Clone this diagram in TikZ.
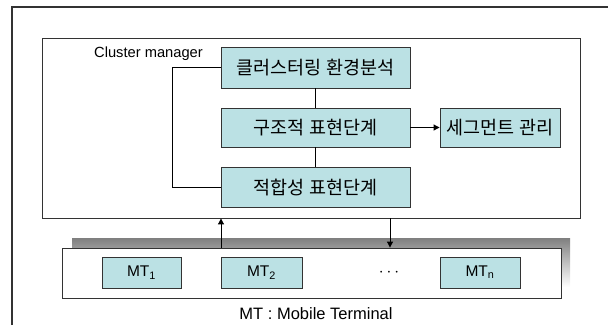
\documentclass[tikz,border=0pt]{standalone}
\usepackage{fontspec}
\setmainfont{Liberation Sans}
\newfontfamily\kr{Noto Sans CJK KR}
\usetikzlibrary{arrows.meta}
\definecolor{boxfill}{HTML}{BBE1E4}
\definecolor{edge}{HTML}{333333}
\definecolor{shade}{HTML}{C0C0C0}
\tikzset{
  stage/.style={draw=edge, line width=0.9pt, fill=boxfill, inner sep=0pt,
    font=\kr\fontsize{18.5}{20}\selectfont},
  mtbox/.style={draw=edge, line width=0.9pt, fill=boxfill, inner sep=0pt,
    minimum height=31pt, font=\fontsize{15.5}{17}\selectfont},
  frame/.style={draw=edge, line width=0.9pt, inner sep=0pt},
  link/.style={draw=black, line width=1pt},
  arr/.style={link, -{Triangle[length=6pt,width=6pt]}}
}
\begin{document}
\begin{tikzpicture}[x=1pt,y=-1pt]
\useasboundingbox (0,0) rectangle (608,325);
% outer frame (only left and top edges visible)
\draw[line width=2pt, color=edge] (12,325) -- (12,7) -- (608,7);

% cluster manager
\node[frame, minimum width=538pt, minimum height=180pt] (cm) at (311,128) {};
\node[font=\fontsize{14.7}{16}\selectfont] (cmlabel) at (148.5,54) {Cluster manager};

\node[stage, minimum width=189pt, minimum height=41pt] (b1) at (315.5,67.5) {클러스터링 환경분석};
\node[stage, minimum width=189pt, minimum height=39pt] (b2) at (315.5,127.5) {구조적 표현단계};
\node[stage, minimum width=189pt, minimum height=40pt] (b3) at (315.5,187) {적합성 표현단계};
\node[stage, minimum width=120pt, minimum height=39pt] (b4) at (500,127.5) {세그먼트 관리};

\coordinate (lx) at (172,0);
\draw[link] (b1.south) -- (b2.north);
\draw[link] (b2.south) -- (b3.north);
\draw[arr] (b2.east) -- (b4.west);
\draw[link] (b1.west) -- (b1.west -| lx) |- (b3.west);

% mobile terminals with shadow
\fill[shade] (72,238) rectangle (570,287);
\node[frame, fill=white, minimum width=499pt, minimum height=50pt] (mt) at (311.5,273) {};
\node[mtbox, minimum width=79pt] (mt1) at (141.5,272.5) {MT\textsubscript{1}};
\node[mtbox, minimum width=81pt] (mt2) at (261.5,272.5) {MT\textsubscript{2}};
\node[mtbox, minimum width=80pt] (mtn) at (480,272.5) {MT\textsubscript{n}};
\node[font=\fontsize{18}{20}\selectfont] (dots) at (389,273) {$\cdots$};

\coordinate (upx) at (221,0);
\coordinate (dnx) at (390,0);
\draw[arr] (mt.north -| upx) -- (cm.south -| upx);
\draw[arr] (cm.south -| dnx) -- (mt.north -| dnx);

\node[font=\fontsize{16.5}{18}\selectfont] (caption) at (316,314) {MT : Mobile Terminal};
\end{tikzpicture}
\end{document}
